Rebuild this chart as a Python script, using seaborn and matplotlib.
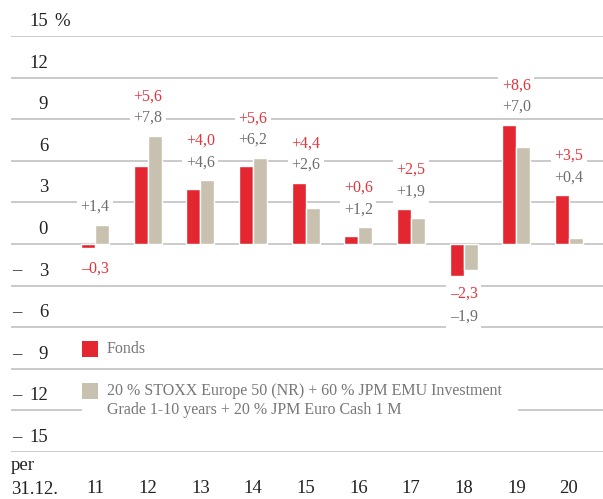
import matplotlib
matplotlib.use("Agg")
import matplotlib.pyplot as plt
import matplotlib.transforms as mtransforms
from matplotlib.patches import Rectangle
import pandas as pd
import seaborn as sns

# data
years = ["11", "12", "13", "14", "15", "16", "17", "18", "19", "20"]
fonds = [-0.3, 5.6, 4.0, 5.6, 4.4, 0.6, 2.5, -2.3, 8.6, 3.5]
benchmark = [1.4, 7.8, 4.6, 6.2, 2.6, 1.2, 1.9, -1.9, 7.0, 0.4]
y_ticks = [15, 12, 9, 6, 3, 0, -3, -6, -9, -12, -15]
series = ["Fonds",
          "20 % STOXX Europe 50 (NR) + 60 % JPM EMU Investment\n"
          "Grade 1-10 years + 20 % JPM Euro Cash 1 M"]

RED = "#e3262f"
BEIGE = "#c8c1b0"
GRID = "#c6c6c6"
W, H = 603, 499

df = pd.DataFrame({
    "year": years * 2,
    "value": fonds + benchmark,
    "series": [series[0]] * len(years) + [series[1]] * len(years),
})

sns.set_style("white")
plt.rcParams["font.family"] = ["Liberation Serif", "DejaVu Serif"]

fig = plt.figure(figsize=(W / 100, H / 100), dpi=100)
ax = fig.add_axes([11 / W, (H - 452) / H, 592 / W, 416 / H])

for v in y_ticks:
    ax.axhline(v, color=GRID, lw=1.3, zorder=0)

sns.barplot(data=df, x="year", y="value", hue="series", order=years,
            hue_order=series, palette=[RED, BEIGE], width=0.532,
            saturation=1, ax=ax, zorder=2, legend=False)

ax.set_xlim(-1.595, 9.646)
ax.set_ylim(-15, 15)
for s in ax.spines.values():
    s.set_visible(False)
ax.set_xlabel("")
ax.set_ylabel("")
ax.set_yticks([])
ax.tick_params(axis="x", length=0, pad=20.5, labelsize=13.5, labelcolor="#222222")


def fmt(v):
    s = f"{abs(v):.1f}".replace(".", ",")
    return ("+" if v >= 0 else "\u2013") + s


box = dict(facecolor="white", edgecolor="none", pad=2.5)
for i, (f, b) in enumerate(zip(fonds, benchmark)):
    if f >= 0 and b >= 0:
        top = max(f, b)
        yb, yf = top + 1.3, top + 2.85
    elif f < 0 and b >= 0:
        yb, yf = b + 1.3, f - 1.45
    else:
        low = min(f, b)
        yf, yb = low - 1.25, low - 2.95
    ax.text(i, yb, fmt(b), ha="center", va="center", fontsize=11.5,
            color="#6e6e6e", bbox=box, zorder=3)
    ax.text(i, yf, fmt(f), ha="center", va="center", fontsize=11.5,
            color="#e8323c", bbox=box, zorder=3)

# y tick labels sit above their gridline
tr = mtransforms.blended_transform_factory(fig.transFigure, ax.transData)
for v in y_ticks:
    ax.text(48 / W, v + 1.05, str(abs(v)), transform=tr, ha="right",
            va="center", fontsize=13.5, color="#222222", clip_on=False)
    if v < 0:
        ax.text(12 / W, v + 1.05, "\u2013", transform=tr, ha="left",
                va="center", fontsize=13.5, color="#222222", clip_on=False)
ax.text(54 / W, 15 + 1.05, "%", transform=tr, ha="left", va="center",
        fontsize=13.5, color="#222222", clip_on=False)

fig.text(11 / W, 1 - 465 / H, "per", ha="left", va="center",
         fontsize=13.5, color="#222222")
fig.text(11 / W, 1 - 489 / H, "31.12.", ha="left", va="center",
         fontsize=13.5, color="#222222")

# legend
fig.add_artist(Rectangle((82 / W, 1 - 424 / H), 436 / W, 44 / H,
                         transform=fig.transFigure, facecolor="white",
                         edgecolor="none", zorder=5))
fig.add_artist(Rectangle((82 / W, 1 - 357 / H), 16 / W, 16 / H,
                         transform=fig.transFigure, facecolor=RED,
                         edgecolor="none", zorder=6))
fig.add_artist(Rectangle((82 / W, 1 - 399 / H), 16 / W, 16 / H,
                         transform=fig.transFigure, facecolor=BEIGE,
                         edgecolor="none", zorder=6))
fig.text(107 / W, 1 - 349 / H, series[0], ha="left", va="center",
         fontsize=11.5, color="#777777", zorder=7)
fig.text(107 / W, 1 - 400.5 / H, series[1], ha="left", va="center",
         fontsize=11.5, color="#777777", linespacing=1.3, zorder=7)

fig.savefig("out.png", dpi=100)
